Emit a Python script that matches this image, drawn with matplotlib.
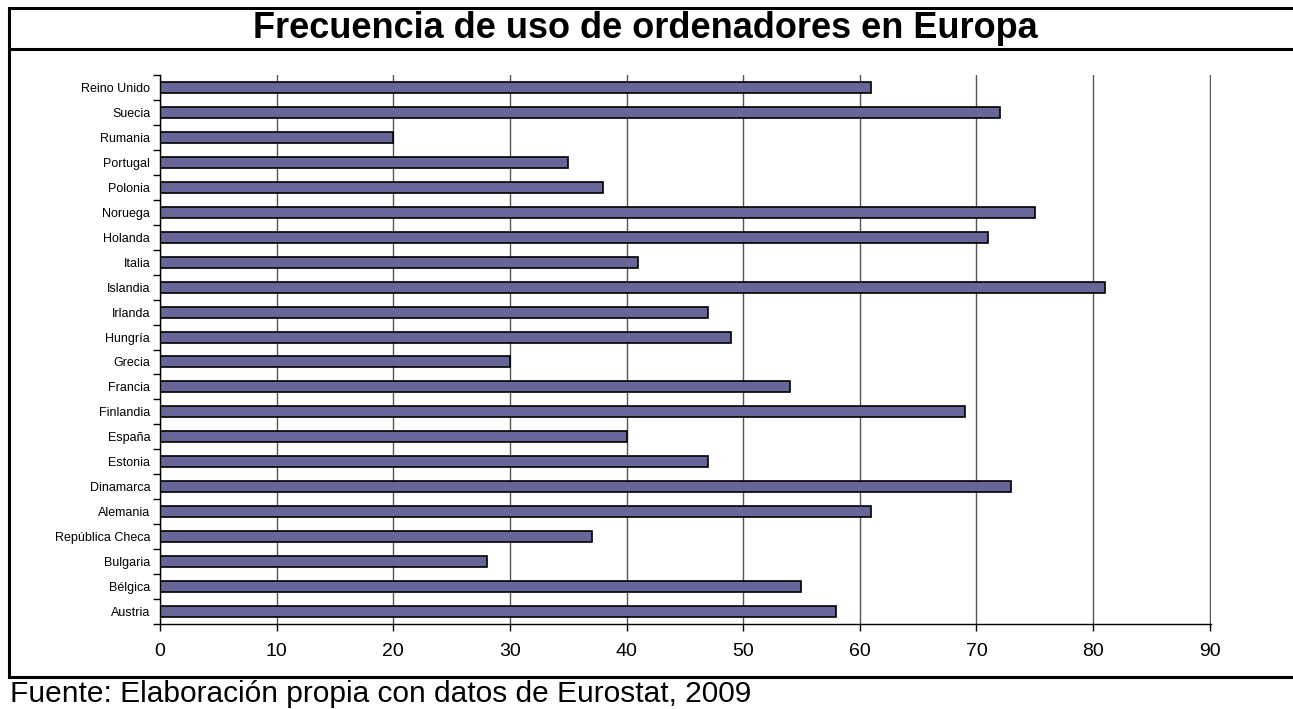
import matplotlib
matplotlib.use("Agg")
import matplotlib.pyplot as plt
from matplotlib.lines import Line2D

paises = ["Austria", "Bélgica", "Bulgaria", "República Checa", "Alemania",
          "Dinamarca", "Estonia", "España", "Finlandia", "Francia", "Grecia",
          "Hungría", "Irlanda", "Islandia", "Italia", "Holanda", "Noruega",
          "Polonia", "Portugal", "Rumania", "Suecia", "Reino Unido"]
valores = [58, 55, 28, 37, 61, 73, 47, 40, 69, 54, 30,
           49, 47, 81, 41, 71, 75, 38, 35, 20, 72, 61]
xticks = [0, 10, 20, 30, 40, 50, 60, 70, 80, 90]

plt.rcParams['font.family'] = ['Liberation Sans', 'DejaVu Sans']

fig = plt.figure(figsize=(12.93, 7.09), dpi=100)
ax = fig.add_axes([0.1237, 0.1199, 0.8128, 0.7743])

pos = list(range(len(paises)))
ax.barh(pos, valores, height=0.44, color='#666699', edgecolor='black',
        linewidth=1.2, zorder=3)

ax.set_xlim(0, 90.1)
ax.set_ylim(-0.5, len(paises) - 0.5)
ax.set_xticks(xticks)
ax.set_xticklabels([str(v) for v in xticks], fontsize=14)
ax.set_yticks(pos)
ax.set_yticklabels(paises, fontsize=9)
ax.tick_params(axis='y', length=0, pad=7)
ax.set_yticks([p - 0.5 for p in pos] + [len(paises) - 0.5], minor=True)
ax.tick_params(axis='y', which='minor', length=5, width=1, direction='out')
ax.tick_params(axis='x', length=5, width=1, direction='out', pad=9)

ax.xaxis.grid(True, color='#555555', linewidth=1, zorder=0)
for s in ['top', 'right']:
    ax.spines[s].set_visible(False)
ax.spines['left'].set_linewidth(1)
ax.spines['bottom'].set_linewidth(1)
ax.spines['left'].set_zorder(4)

# marco del grafico
W, H = 1293.0, 709.0
def linea(x0, y0, x1, y1):
    fig.add_artist(Line2D([x0 / W, x1 / W], [1 - y0 / H, 1 - y1 / H],
                          color='black', linewidth=2.2))

linea(9, 8, W, 8)
linea(9, 49, W, 49)
linea(9, 677, W, 677)
linea(9, 8, 9, 677)

fig.text(645 / W, 1 - 29 / H, "Frecuencia de uso de ordenadores en Europa",
         ha='center', va='center', fontsize=26, fontweight='bold')
fig.text(10 / W, 1 - 694 / H, "Fuente: Elaboración propia con datos de Eurostat, 2009",
         ha='left', va='center', fontsize=21.5)

fig.savefig('out.png', dpi=100)
